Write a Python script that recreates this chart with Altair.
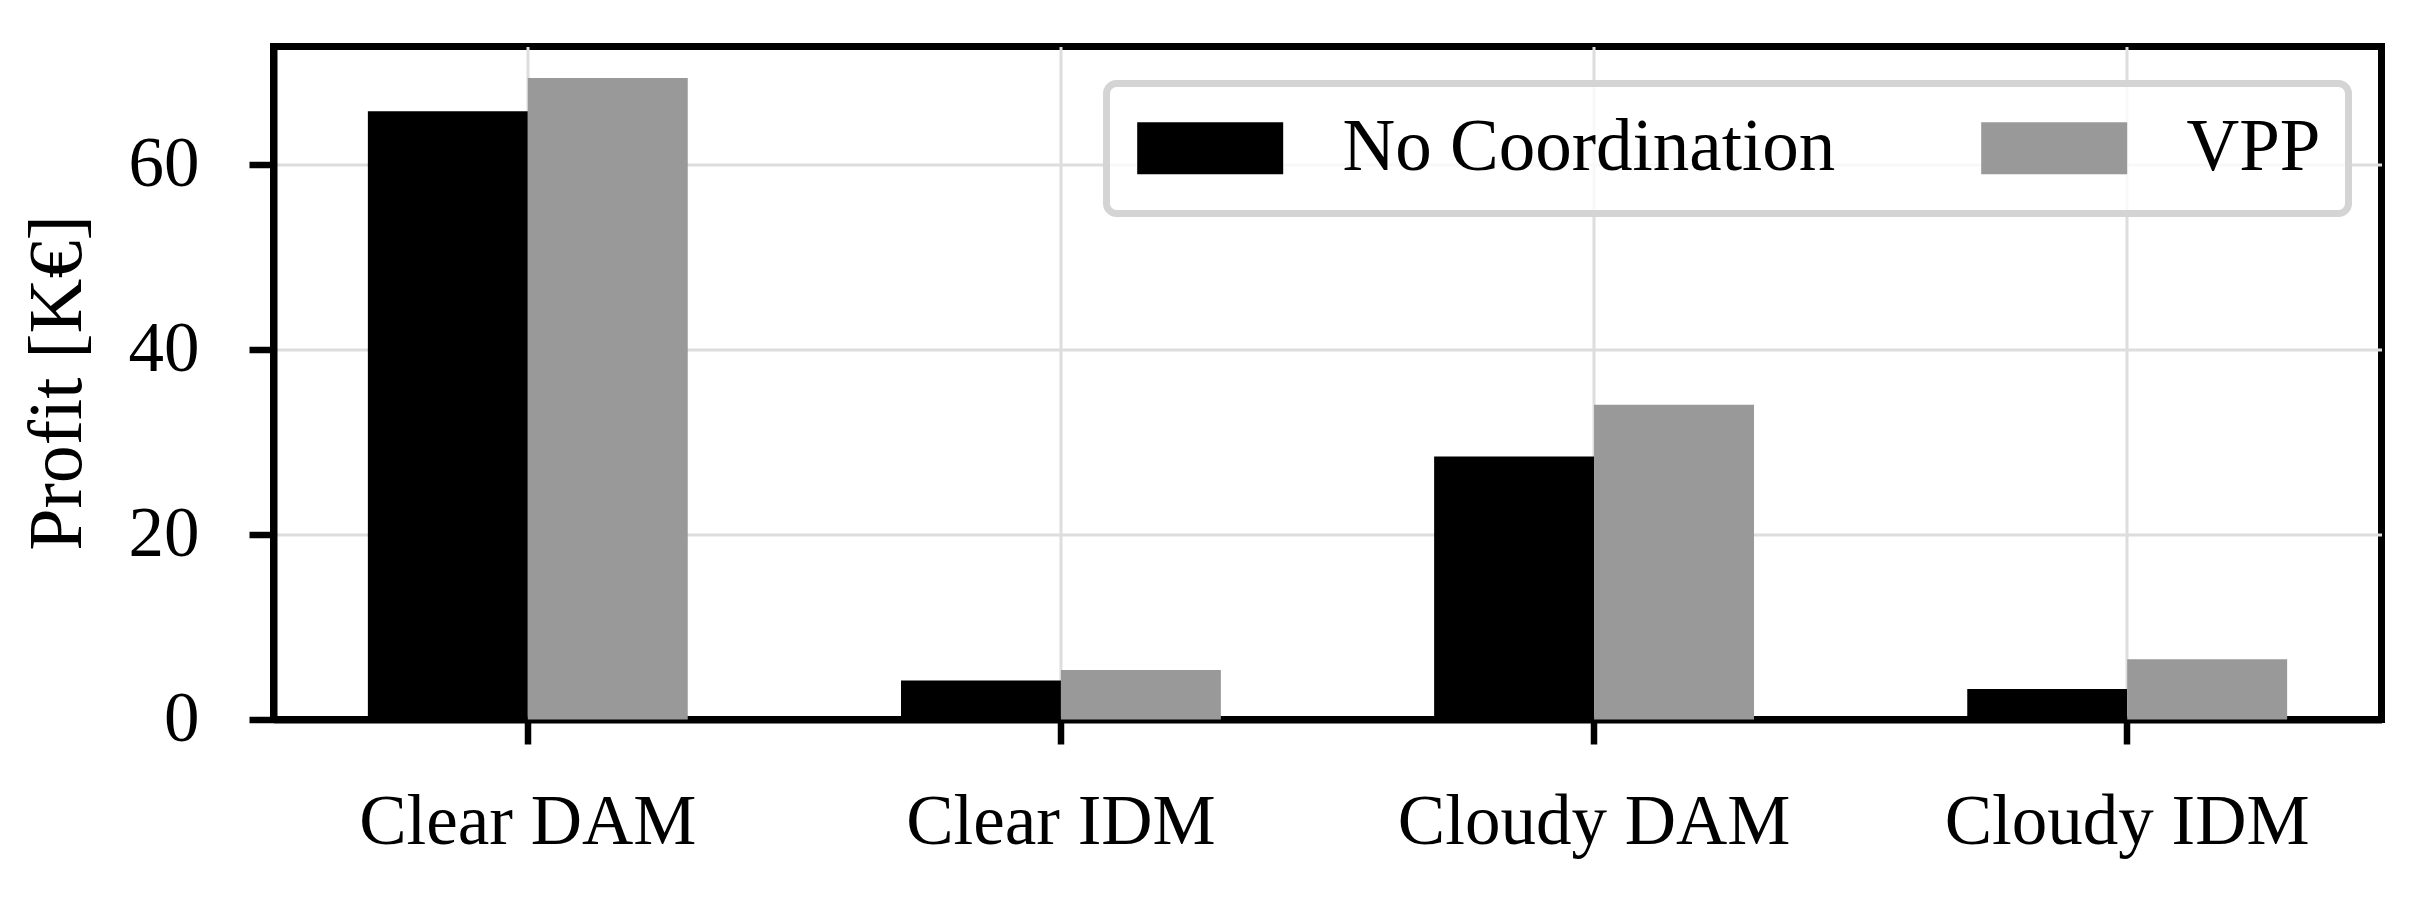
import altair as alt
import pandas as pd

categories = ["Clear DAM", "Clear IDM", "Cloudy DAM", "Cloudy IDM"]
series = ["No Coordination", "VPP"]
no_coordination = [65.7, 4.2, 28.4, 3.3]
vpp = [69.3, 5.35, 34.0, 6.5]
y_ticks = [0, 20, 40, 60]

rows = []
for c, a, b in zip(categories, no_coordination, vpp):
    rows.append({"category": c, "series": series[0], "value": a})
    rows.append({"category": c, "series": series[1], "value": b})
df = pd.DataFrame(rows)

FONT = "Liberation Serif"
FS = 71

chart = alt.Chart(df).mark_bar().encode(
    x=alt.X(
        "category:N",
        sort=categories,
        scale=alt.Scale(paddingInner=0.4, paddingOuter=0.177),
        axis=alt.Axis(
            title=None, labelAngle=0, bandPosition=0.5, grid=True,
            gridColor="#dddddd", gridWidth=3,
            domain=True, domainColor="black", domainWidth=7,
            ticks=True, tickSize=24.5, tickWidth=6.5, tickColor="black",
            labelFont=FONT, labelFontSize=FS, labelColor="black",
            labelPadding=43, labelLimit=0,
        ),
    ),
    xOffset=alt.XOffset("series:N", sort=series,
                        scale=alt.Scale(paddingInner=0, paddingOuter=0)),
    y=alt.Y(
        "value:Q",
        scale=alt.Scale(domain=[0, 72.7], nice=False, zero=True),
        axis=alt.Axis(
            title="Profit [K€]", values=y_ticks, grid=True,
            gridColor="#dddddd", gridWidth=3,
            domain=True, domainColor="black", domainWidth=7,
            ticks=True, tickSize=24.5, tickWidth=6.5, tickColor="black",
            labelFont=FONT, labelFontSize=FS, labelColor="black",
            labelPadding=50,
            titleFont=FONT, titleFontSize=76, titleFontWeight="normal",
            titleColor="black", titleAngle=-90, titleBaseline="alphabetic",
            titleAlign="center", titleX=-193, titleY=336,
        ),
    ),
    color=alt.Color(
        "series:N",
        scale=alt.Scale(domain=series, range=["#000000", "#999999"]),
        legend=alt.Legend(
            title=None, orient="none", legendX=833, legendY=37,
            direction="horizontal", columns=2,
            symbolType="M-1.3,-1H4.315V1H-1.3Z", symbolSize=2704,
            symbolStrokeWidth=0, symbolOpacity=1,
            labelFont=FONT, labelFontSize=73, labelColor="black",
            labelOffset=135, columnPadding=143, padding=28,
            strokeColor="#d4d4d4", cornerRadius=10,
            fillColor="rgba(255,255,255,0.8)", labelLimit=0,
        ),
    ),
).properties(
    width=2108, height=673,
    autosize=alt.AutoSizeParams(type="none"),
    padding={"left": 265.5, "top": 38.5, "right": 20, "bottom": 160},
).configure_view(
    stroke="black", strokeWidth=7,
).configure_legend(
    strokeWidth=7,
)

chart.save("out.html", embed_options={"renderer": "svg", "actions": False})
